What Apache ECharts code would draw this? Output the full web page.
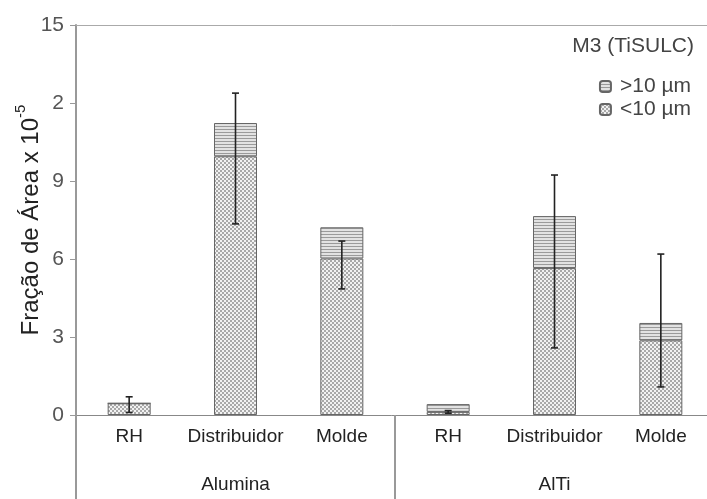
<!DOCTYPE html>
<html><head><meta charset="utf-8">
<script src="https://cdn.jsdelivr.net/npm/echarts@6/dist/echarts.min.js"></script>
<style>html,body{margin:0;padding:0;background:#fff}#c{width:707px;height:499px}</style>
</head><body><div id="c"></div>
<script>
// ---- data ----
var categories = ['RH', 'Distribuidor', 'Molde', 'RH', 'Distribuidor', 'Molde'];
var groups = ['Alumina', 'AlTi'];
var below10 = [0.45, 9.95, 6.02, 0.12, 5.65, 2.87];
var above10 = [0.0, 1.28, 1.2, 0.3, 2.0, 0.67];
var errLow = [0.1, 7.35, 4.85, 0.07, 2.58, 1.08];
var errHigh = [0.7, 12.38, 6.69, 0.17, 9.23, 6.19];
var yTickValues = [0, 3, 6, 9, 12, 15];
var yTickLabels = ['0', '3', '6', '9', '2', '15'];
var seriesNames = ['<10 µm', '>10 µm'];

function makeCanvas(w, h, draw) {
  var c = document.createElement('canvas'); c.width = w; c.height = h;
  draw(c.getContext('2d')); return c;
}
var crossPat = makeCanvas(4, 4, function (g) {
  g.fillStyle = '#a9a9a9'; g.fillRect(0, 0, 4, 4);
  g.fillStyle = '#f2f2f2'; g.fillRect(0, 0, 2, 2); g.fillRect(2, 2, 2, 2);
});
var linePat = makeCanvas(4, 3, function (g) {
  g.fillStyle = '#e2e2e2'; g.fillRect(0, 0, 4, 3);
  g.fillStyle = '#9a9a9a'; g.fillRect(0, 0, 4, 1);
});

var errData = categories.map(function (c, i) { return [i, errLow[i], errHigh[i]]; });

var chart = echarts.init(document.getElementById('c'), null, {renderer: 'canvas'});
var FONT = 'Liberation Sans, Arial, sans-serif';
chart.setOption({
  animation: false,
  textStyle: {fontFamily: FONT},
  title: {
    text: 'M3 (TiSULC)', right: 8, top: 31,
    textStyle: {fontSize: 21, fontWeight: 'normal', color: '#444', fontFamily: FONT}
  },
  legend: {
    orient: 'vertical', right: 11, top: 71, itemWidth: 11, itemHeight: 11, itemGap: 2,
    align: 'left',
    data: [seriesNames[1], seriesNames[0]],
    textStyle: {fontSize: 21, lineHeight: 21, color: '#444', fontFamily: FONT, padding: [0, 0, 0, 4]}
  },
  grid: {left: 76, right: -7, top: 25, bottom: 84, show: false,
         outerBoundsMode: 'none', containLabel: false},
  xAxis: [{
    type: 'category', data: categories, boundaryGap: true,
    axisLine: {show: true, lineStyle: {color: '#888', width: 1}},
    axisTick: {show: false},
    axisLabel: {margin: 12, fontSize: 19, color: '#222', fontFamily: FONT, interval: 0}
  }, {
    type: 'category', data: groups, position: 'bottom', boundaryGap: true,
    axisLine: {show: false},
    axisTick: {show: true, length: 90, interval: 0, lineStyle: {color: '#999', width: 2}},
    axisLabel: {margin: 60, fontSize: 19, color: '#222', fontFamily: FONT, interval: 0}
  }, {
    type: 'category', data: categories, position: 'top', boundaryGap: true,
    axisLine: {show: true, lineStyle: {color: '#aaa', width: 1}},
    axisTick: {show: false}, axisLabel: {show: false}
  }],
  yAxis: {
    type: 'value', min: 0, max: 15, interval: 3,
    axisLine: {show: true, lineStyle: {color: '#999', width: 2}},
    axisTick: {show: true, length: 6, lineStyle: {color: '#999'}},
    splitLine: {show: false},
    axisLabel: {
      margin: 12, fontSize: 21, color: '#555', fontFamily: FONT,
      formatter: function (v) { var k = yTickValues.indexOf(v); return k >= 0 ? yTickLabels[k] : ''; }
    },
    name: '{b|Fração de Área x 10}{s|-5}', nameLocation: 'middle', nameGap: 33, nameRotate: 90,
    nameMoveOverlap: false,
    nameTextStyle: {
      rich: {
        b: {fontSize: 24, color: '#222', fontFamily: FONT, lineHeight: 30, verticalAlign: 'bottom'},
        s: {fontSize: 15, color: '#222', fontFamily: FONT, lineHeight: 30, verticalAlign: 'top'}
      }
    }
  },
  series: [{
    name: seriesNames[0], type: 'bar', stack: 'a', data: below10, barWidth: 43,
    itemStyle: {color: {image: crossPat, repeat: 'repeat'}, borderColor: '#666', borderWidth: 1}
  }, {
    name: seriesNames[1], type: 'bar', stack: 'a', data: above10, barWidth: 43,
    itemStyle: {color: {image: linePat, repeat: 'repeat'}, borderColor: '#666', borderWidth: 1}
  }, {
    name: 'err', type: 'custom', data: errData, z: 10,
    renderItem: function (params, api) {
      var x = api.value(0);
      var lo = api.coord([x, api.value(1)]);
      var hi = api.coord([x, api.value(2)]);
      var hw = 3.5;
      var st = {stroke: '#222', lineWidth: 1.6};
      return {type: 'group', children: [
        {type: 'line', shape: {x1: lo[0], y1: lo[1], x2: hi[0], y2: hi[1]}, style: st},
        {type: 'line', shape: {x1: lo[0] - hw, y1: lo[1], x2: lo[0] + hw, y2: lo[1]}, style: st},
        {type: 'line', shape: {x1: hi[0] - hw, y1: hi[1], x2: hi[0] + hw, y2: hi[1]}, style: st}
      ]};
    }
  }]
});
</script>
</body></html>
